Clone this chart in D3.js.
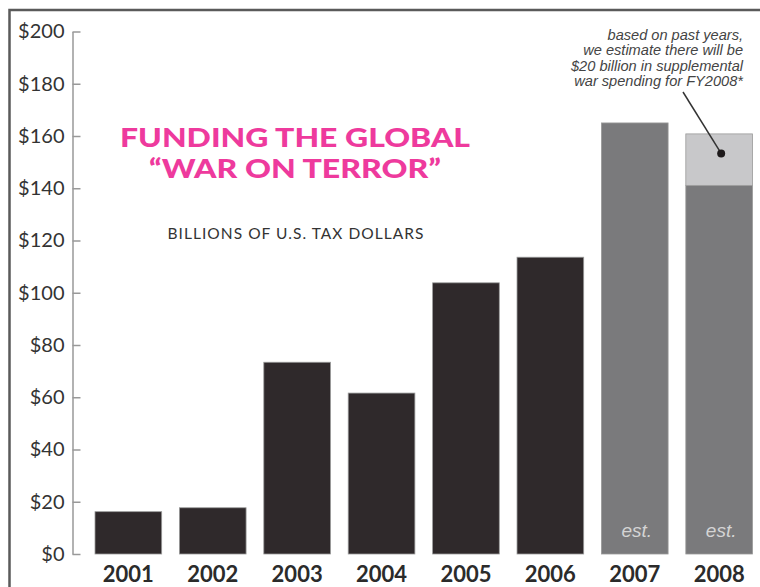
<!DOCTYPE html>
<html>
<head>
<meta charset="utf-8">
<script src="https://cdn.jsdelivr.net/npm/d3@7"></script>
<style>
  body { margin: 0; background: #fff; }
  svg { display: block; }
</style>
</head>
<body>
<div id="chart"></div>
<script>
// data (billions of dollars)
var years = ["2001", "2002", "2003", "2004", "2005", "2006", "2007", "2008"];
var funding = [16.2, 17.7, 73.4, 61.6, 103.8, 113.6, 165.0, 141.1];
var supplemental = [0, 0, 0, 0, 0, 0, 0, 19.7];
var estimated = [false, false, false, false, false, false, true, true];
var yTicks = [0, 20, 40, 60, 80, 100, 120, 140, 160, 180, 200];
var titleLines = ["FUNDING THE GLOBAL", "\u201CWAR ON TERROR\u201D"];
var subtitle = "BILLIONS OF U.S. TAX DOLLARS";
var noteLines = ["based on past years,", "we estimate there will be",
                 "$20 billion in supplemental", "war spending for FY2008*"];

var W = 760, H = 587;

var svg = d3.select("#chart")
  .append("svg")
    .attr("width", W)
    .attr("height", H);

// frame, cut off on right and bottom like the scan
svg.append("rect")
  .attr("x", 9.5).attr("y", 10)
  .attr("width", W + 20).attr("height", H + 20)
  .attr("fill", "none")
  .attr("stroke", "#5a5a5a")
  .attr("stroke-width", 2.5);

// scales
var y = d3.scaleLinear()
  .domain([0, 200])
  .range([554, 31.5]);

var x = d3.scaleBand()
  .domain(years)
  .range([95, 752.5])
  .paddingInner(0.21)
  .paddingOuter(0);

// Y axis: ticks point inward, labels on the left
var yAxis = svg.append("g")
  .attr("transform", "translate(72.5,0)")
  .call(d3.axisLeft(y)
    .tickValues(yTicks)
    .tickSizeInner(-8)
    .tickSizeOuter(0)
    .tickPadding(8)
    .tickFormat(function(d) { return "$" + d; }));

yAxis.select(".domain").attr("stroke", "#999").attr("stroke-width", 1.5);
yAxis.selectAll(".tick line").attr("stroke", "#999").attr("stroke-width", 1.5);
yAxis.selectAll(".tick text")
  .attr("fill", "#333")
  .style("font-family", "Lato, sans-serif")
  .style("font-size", "20px");

// bars
var bars = svg.append("g");

bars.selectAll(".bar")
  .data(years)
  .enter().append("rect")
    .attr("class", "bar")
    .attr("x", function(d) { return x(d); })
    .attr("y", function(d, i) { return y(funding[i]); })
    .attr("width", x.bandwidth())
    .attr("height", function(d, i) { return y(0) - y(funding[i]); })
    .attr("fill", function(d, i) { return estimated[i] ? "#7a7a7c" : "#2f292b"; })
    .attr("stroke", "#9a9a9a")
    .attr("stroke-width", 0.8);

// supplemental piece on top of 2008
bars.selectAll(".supp")
  .data(years.filter(function(d, i) { return supplemental[i] > 0; }))
  .enter().append("rect")
    .attr("class", "supp")
    .attr("x", function(d) { return x(d); })
    .attr("y", function(d) { var i = years.indexOf(d); return y(funding[i] + supplemental[i]); })
    .attr("width", x.bandwidth())
    .attr("height", function(d) { var i = years.indexOf(d); return y(funding[i]) - y(funding[i] + supplemental[i]); })
    .attr("fill", "#c8c8ca")
    .attr("stroke", "#9a9a9a")
    .attr("stroke-width", 0.8);

// "est." labels inside the estimated bars
bars.selectAll(".est")
  .data(years.filter(function(d, i) { return estimated[i]; }))
  .enter().append("text")
    .attr("class", "est")
    .attr("x", function(d) { return x(d) + x.bandwidth() / 2 + 2; })
    .attr("y", y(0) - 17)
    .attr("text-anchor", "middle")
    .attr("fill", "#d4d4d4")
    .style("font-family", "'Liberation Sans', Arial, sans-serif")
    .style("font-style", "italic")
    .style("font-size", "19px")
    .text("est.");

// year labels
svg.append("g").selectAll("text")
  .data(years)
  .enter().append("text")
    .attr("x", function(d) { return x(d) + x.bandwidth() / 2; })
    .attr("y", 582)
    .attr("text-anchor", "middle")
    .attr("fill", "#2b2b2b")
    .style("font-family", "Lato, sans-serif")
    .style("font-weight", "bold")
    .style("font-size", "22px")
    .text(function(d) { return d; });

// title - the original face is wider, so stretch each line to its width
var titleWidths = [350, 292];
var title = svg.append("g");
title.selectAll("text")
  .data(titleLines)
  .enter().append("text")
    .attr("x", 295)
    .attr("y", function(d, i) { return 146.7 + i * 31.6; })
    .attr("text-anchor", "middle")
    .attr("fill", "#ee3a9d")
    .attr("textLength", function(d, i) { return titleWidths[i]; })
    .attr("lengthAdjust", "spacingAndGlyphs")
    .style("font-family", "Lato, sans-serif")
    .style("font-weight", "900")
    .style("font-size", "26px")
    .text(function(d) { return d; });

title.append("text")
  .attr("x", 296)
  .attr("y", 238.5)
  .attr("text-anchor", "middle")
  .attr("fill", "#333")
  .style("font-family", "Lato, sans-serif")
  .style("font-size", "15.5px")
  .style("letter-spacing", "1.05px")
  .text(subtitle);

// annotation for the 2008 supplemental
var note = svg.append("g");
note.selectAll("text")
  .data(noteLines)
  .enter().append("text")
    .attr("x", 743)
    .attr("y", function(d, i) { return 39.5 + i * 15.6; })
    .attr("text-anchor", "end")
    .attr("fill", "#444")
    .style("font-family", "'Liberation Sans', Arial, sans-serif")
    .style("font-style", "italic")
    .style("font-size", "14.6px")
    .text(function(d) { return d; });

var dotX = x("2008") + x.bandwidth() / 2 + 2;
var dotY = y(funding[7] + supplemental[7] * 0.62);

note.append("line")
  .attr("x1", 683).attr("y1", 92)
  .attr("x2", dotX).attr("y2", dotY)
  .attr("stroke", "#333")
  .attr("stroke-width", 1.5);

note.append("circle")
  .attr("cx", dotX).attr("cy", dotY)
  .attr("r", 4)
  .attr("fill", "#1e1a1b");
</script>
</body>
</html>
